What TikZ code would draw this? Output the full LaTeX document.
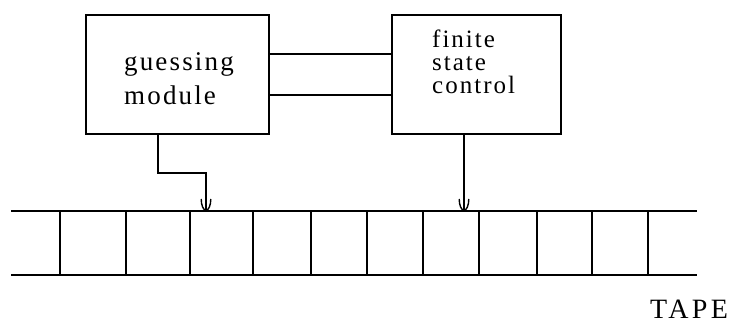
\documentclass[tikz,border=0pt]{standalone}
\usepackage{fontspec}
\setmainfont{Liberation Serif}
\usetikzlibrary{arrows.meta}
\newfontfamily\labelfont[LetterSpace=8]{Liberation Serif}
\newfontfamily\tapefont[LetterSpace=12]{Liberation Serif}
\tikzset{
  every picture/.style={x=1pt,y=-1pt},
  line/.style={line width=1.4pt, black},
  boxnode/.style={draw, line width=1.4pt, minimum width=183pt, minimum height=119pt, inner sep=0pt},
  txt/.style={anchor=base west, inner sep=0pt, font=\labelfont\fontsize{27}{27}\selectfont},
  headarrow/.style={line, -{Arc Barb[length=12pt,width=11pt,line width=1.4pt]}}
}
\begin{document}
\begin{tikzpicture}
\useasboundingbox (0,0) rectangle (730,324);
% boxes
\node[boxnode] (gm) at (177.5,74.5) {};
\node[boxnode, minimum width=169pt] (fsc) at (476.5,74.5) {};
% texts
\node[txt] (g1) at (124,70) {guessing};
\node[txt] (g2) at (124,104) {module};
\node[txt, align=left, font=\labelfont\fontsize{25}{23}\selectfont] (f) at (432,93) {finite\\state\\control};
\node[anchor=base west, inner sep=0pt, font=\tapefont\fontsize{28}{28}\selectfont] (tape) at (650,318) {TAPE};
% connectors between boxes
\coordinate (ya) at (0,54);
\coordinate (yb) at (0,95);
\draw[line] (gm.east |- ya) -- (fsc.west |- ya);
\draw[line] (gm.east |- yb) -- (fsc.west |- yb);
% tape
\coordinate (tl) at (11,211);
\coordinate (tr) at (697,211);
\coordinate (bl) at (11,275);
\coordinate (br) at (697,275);
\draw[line] (tl) -- (tr);
\draw[line] (bl) -- (br);
\foreach \x in {60,126,190,253,311,367,423,479,537,592,648}{
  \draw[line] (\x,211) -- (\x,275);
}
% heads
\coordinate (h1) at (206,211);
\coordinate (h2) at (464,211);
\coordinate (gout) at (158,134);
\draw[headarrow] (gm.south -| gout) -- (158,173) -- (206,173) -- (h1);
\draw[headarrow] (fsc.south -| h2) -- (h2);
\end{tikzpicture}
\end{document}
